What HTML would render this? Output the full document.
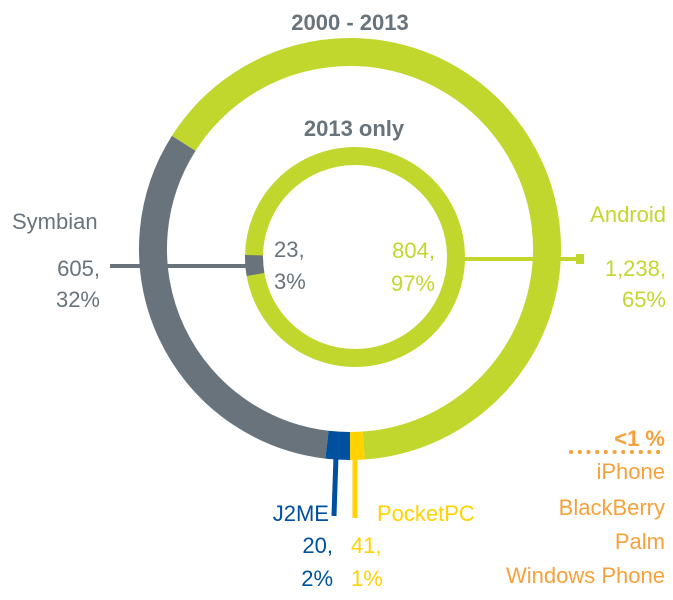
<!DOCTYPE html>
<html><head><style>
body{margin:0;background:#fff;}
svg{display:block;}
text{font-family:"Liberation Sans",sans-serif;font-size:22px;}
</style></head><body>
<svg width="673" height="600" viewBox="0 0 673 600">
<g fill="none">
<path d="M183.7,143.4 A197,197 0 1 1 363.7,445.5" stroke="#c2d72e" stroke-width="28"/>
<path d="M327,444.7 A197,197 0 0 1 183.7,143.4" stroke="#68737c" stroke-width="28"/>
<path d="M350,446 A197,197 0 0 1 327,444.7" stroke="#0050a0" stroke-width="28"/>
<path d="M363.7,445.5 A197,197 0 0 1 350,446" stroke="#ffd200" stroke-width="28"/>
<circle cx="355" cy="257" r="101" stroke="#c2d72e" stroke-width="18"/>
<path d="M255.5,274.5 A101,101 0 0 1 254,255.2" stroke="#68737c" stroke-width="18"/>
</g>
<line x1="110" y1="266" x2="250" y2="266" stroke="#68737c" stroke-width="4"/>
<line x1="462" y1="259" x2="583" y2="259" stroke="#c2d72e" stroke-width="4"/>
<rect x="576" y="254" width="8" height="10" fill="#c2d72e"/>
<line x1="336" y1="456" x2="334" y2="516" stroke="#0050a0" stroke-width="5"/>
<line x1="355" y1="456" x2="355" y2="518" stroke="#ffd200" stroke-width="5"/>
<line x1="571" y1="452" x2="666" y2="452" stroke="#f7a13b" stroke-width="4" stroke-dasharray="0.1 8.6" stroke-linecap="round"/>
<g font-weight="bold" fill="#68737c" text-anchor="middle">
<text x="350" y="30" font-size="26">2000 - 2013</text>
<text x="354" y="136" font-size="23">2013 only</text>
</g>
<g fill="#68737c">
<text x="12" y="229" font-size="20">Symbian</text>
<text x="100" y="276" text-anchor="end">605,</text>
<text x="100" y="307" text-anchor="end">32%</text>
<text x="274" y="257">23,</text>
<text x="274" y="289">3%</text>
</g>
<g fill="#c2d72e" text-anchor="end" font-size="24">
<text x="435" y="258">804,</text>
<text x="435" y="291">97%</text>
<text x="666" y="222">Android</text>
<text x="666" y="276">1,238,</text>
<text x="666" y="307">65%</text>
</g>
<g fill="#f7a13b" text-anchor="end" font-size="23">
<text x="665" y="446" font-weight="bold" font-size="24">&lt;1 %</text>
<text x="665" y="479">iPhone</text>
<text x="665" y="515">BlackBerry</text>
<text x="665" y="549">Palm</text>
<text x="665" y="583">Windows Phone</text>
</g>
<g fill="#0050a0" text-anchor="end">
<text x="329" y="521">J2ME</text>
<text x="333" y="553">20,</text>
<text x="333" y="586">2%</text>
</g>
<g fill="#ffd200">
<text x="377" y="521" font-size="23">PocketPC</text>
<text x="351" y="553">41,</text>
<text x="351" y="586">1%</text>
</g>
</svg>
</body></html>
